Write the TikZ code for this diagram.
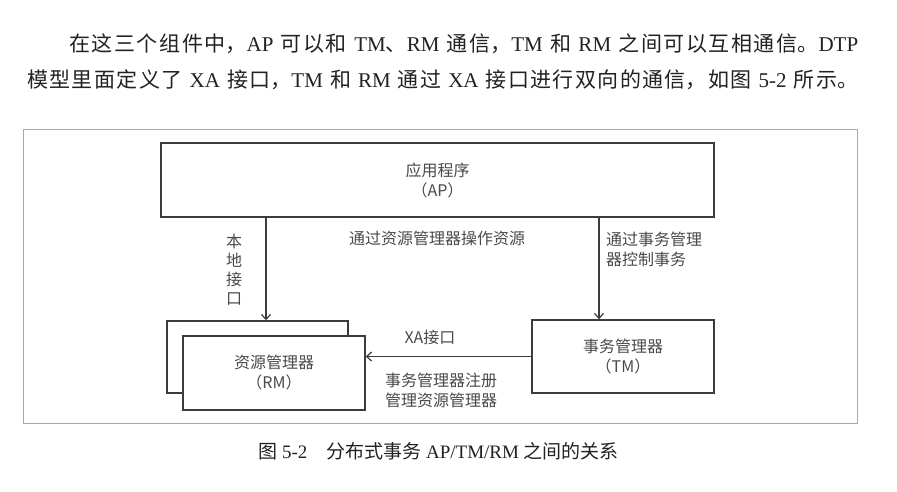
\documentclass[tikz,border=0pt]{standalone}
\usepackage{fontspec}
\setmainfont{Liberation Serif}
\newfontfamily\cjk{Noto Sans CJK SC}
\usetikzlibrary{arrows.meta}
\XeTeXlinebreaklocale "zh"
\XeTeXlinebreakskip=0pt plus 2pt
\newcommand\zh[1]{{\cjk #1}}
\definecolor{lineC}{HTML}{3C3C3C}
\definecolor{txtC}{HTML}{4A4A4A}
\definecolor{frameC}{HTML}{A8A8A8}
\definecolor{bodyC}{HTML}{222222}
\tikzset{
  box/.style={draw=lineC, line width=1.4pt, fill=white, rectangle, inner sep=0pt,
    align=center, text=txtC, font=\cjk\fontsize{16}{20}\selectfont},
  lbl/.style={text=txtC, inner sep=0pt, font=\cjk\fontsize{16}{19.5}\selectfont},
  arr/.style={draw=lineC, line width=1.4pt, -{Straight Barb[length=5pt,width=9pt,line width=1.2pt]}},
}
\begin{document}
\begin{tikzpicture}[x=1pt,y=-1pt]
\useasboundingbox (0,0) rectangle (897,492);
\fill[white] (0,0) rectangle (897,492);

% running text above the figure
\node[anchor=north west, inner sep=0pt, text width=831pt, align=justify, text=bodyC,
      font=\fontsize{21}{36}\selectfont] (body) at (27,34) {%
  \parfillskip=0pt \tolerance=10000 \hspace*{42pt}%
  \zh{在这三个组件中，}AP \zh{可以和} TM\zh{、}RM \zh{通信，}TM \zh{和} RM \zh{之间可以互相通信。}DTP\linebreak
  \zh{模型里面定义了} XA \zh{接口，}TM \zh{和} RM \zh{通过} XA \zh{接口进行双向的通信，如图} 5-2 \zh{所示。}\par};

% figure frame
\draw[frameC, line width=1pt] (23,130) rectangle (857,423);

% components
\node[box, minimum width=553pt, minimum height=74pt] (ap) at (437.5,180) {应用程序\\（AP）};
\node[box, minimum width=181pt, minimum height=72pt] (rmback) at (257.5,357) {};
\node[box, minimum width=182pt, minimum height=74pt] (rm) at (274,373) {资源管理器\\（RM）};
\node[box, minimum width=182pt, minimum height=73pt] (tm) at (623,356.5) {事务管理器\\（TM）};

% connectors
\coordinate (lx) at (266,0);
\coordinate (rx) at (599,0);
\draw[arr] (ap.south -| lx) -- (rmback.north -| lx);
\draw[arr] (ap.south -| rx) -- (tm.north -| rx);
\draw[arr] (tm.west) -- (tm.west -| rm.east);

% connector labels
\node[lbl, align=center, font=\cjk\fontsize{16}{19}\selectfont] (local) at (234,270) {本\\地\\接\\口};
\node[lbl] (viarm) at (437,238) {通过资源管理器操作资源};
\node[lbl, anchor=west, align=left] (viatm) at (606,249.5) {通过事务管理\\器控制事务};
\node[lbl] (xa) at (430,337) {XA接口};
\node[lbl, align=center] (reg) at (441,390.5) {事务管理器注册\\管理资源管理器};

% caption
\node[text=bodyC, inner sep=0pt, font=\fontsize{19}{22}\selectfont] (cap) at (438.5,451)
  {\zh{图} 5-2\hspace{19pt}\zh{分布式事务} AP/TM/RM \zh{之间的关系}};
\end{tikzpicture}
\end{document}
